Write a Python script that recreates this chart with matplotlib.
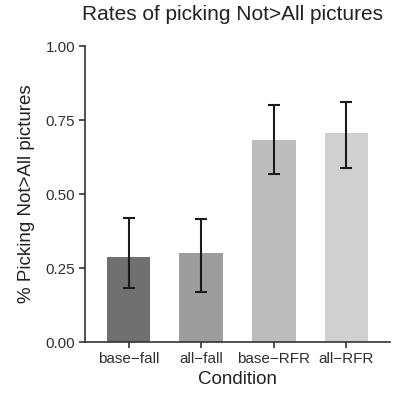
import numpy as np
import matplotlib
matplotlib.use("Agg")
import matplotlib.pyplot as plt

plt.rcParams['font.family'] = ['Liberation Sans', 'DejaVu Sans']

conditions = ['base\u2212fall', 'all\u2212fall', 'base\u2212RFR', 'all\u2212RFR']
rates = [0.288, 0.300, 0.682, 0.705]
ci_low = [0.181, 0.170, 0.567, 0.587]
ci_high = [0.418, 0.414, 0.800, 0.812]
bar_colors = ['#707070', '#9d9d9d', '#bcbcbc', '#d0d0d0']

x = np.arange(1, len(conditions) + 1)
rates_a = np.array(rates)
yerr = [rates_a - np.array(ci_low), np.array(ci_high) - rates_a]

fig = plt.figure(figsize=(3.93, 3.96), dpi=100)
ax = fig.add_axes([85/393, 54/396, 305/393, 296/396])

ax.bar(x, rates, width=0.6, color=bar_colors)
ax.errorbar(x, rates, yerr=yerr, fmt='none', ecolor='#1a1a1a',
            elinewidth=1.5, capsize=4, capthick=1.5)

ax.set_xlim(0.4, 4.6)
ax.set_ylim(0, 1)
ax.set_xticks(x)
ax.set_xticklabels(conditions)
ax.set_yticks([0, 0.25, 0.5, 0.75, 1.0])
ax.set_yticklabels(['0.00', '0.25', '0.50', '0.75', '1.00'])

for side in ['top', 'right']:
    ax.spines[side].set_visible(False)
for side in ['left', 'bottom']:
    ax.spines[side].set_color('#333333')
    ax.spines[side].set_linewidth(1.2)
ax.tick_params(colors='#333333', width=1.2, length=4, labelsize=11, pad=3)
for lab in ax.get_xticklabels() + ax.get_yticklabels():
    lab.set_color('#303030')

ax.set_xlabel('Condition', fontsize=13.5, color='#222222', labelpad=4)
ax.set_ylabel('% Picking Not>All pictures', fontsize=13.5, color='#222222', labelpad=8)
fig.text(233/393, 1 - 15/396, 'Rates of picking Not>All pictures', fontsize=15,
         ha='center', va='center', color='#222222')

fig.savefig('out.png', dpi=100)
